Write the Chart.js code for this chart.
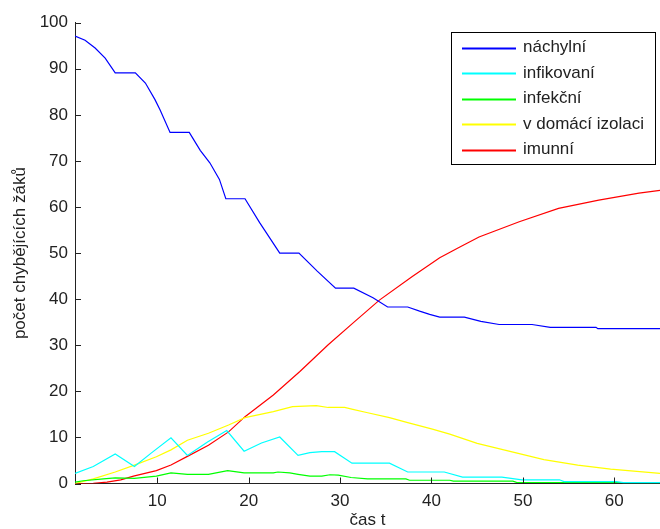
<!DOCTYPE html>
<html>
<head>
<meta charset="utf-8">
<script src="https://cdn.jsdelivr.net/npm/chart.js@4/dist/chart.umd.min.js"></script>
<style>
  body { margin: 0; background: #fff; }
</style>
</head>
<body>
<canvas id="myChart" width="660" height="529"></canvas>
<script>
// series, each with its own time points
const tNachylni = [1, 2.1, 3.2, 4.3, 5.4, 7.6, 8.7, 9.75, 10.3, 11.4, 13.5, 14.7, 15.75, 16.8, 17.5, 19.6, 21.2, 23.4, 25.5, 27.5, 29.5, 31.5, 33.6, 35.2, 37.4, 38.7, 39.8, 40.9, 43.6, 45.4, 47.4, 51, 53, 58, 58.2, 65];
const nachylni = [97.1, 96.2, 94.5, 92.3, 89.1, 89.1, 86.9, 83.3, 81.1, 76.2, 76.2, 72.3, 69.6, 66.0, 61.8, 61.8, 56.6, 50.0, 50.0, 46.1, 42.4, 42.4, 40.3, 38.3, 38.3, 37.4, 36.7, 36.1, 36.1, 35.2, 34.5, 34.5, 33.9, 33.9, 33.6, 33.6];

const tInfikovani = [1, 3, 5.4, 7.5, 9.4, 11.5, 13.3, 15.5, 17.6, 19.5, 21.4, 23.4, 25.4, 26.7, 28.0, 29.4, 31.3, 35.4, 37.4, 41.4, 43.4, 47.7, 49.9, 54, 54.5, 60.2, 61, 65];
const infikovani = [2.2, 3.7, 6.4, 3.7, 6.7, 9.9, 6.1, 9.0, 11.5, 7.0, 8.8, 10.1, 6.1, 6.7, 6.9, 6.9, 4.4, 4.4, 2.5, 2.5, 1.4, 1.4, 0.8, 0.8, 0.4, 0.4, 0.2, 0.2];

const tInfekcni = [1, 1.9, 4.1, 5.4, 7.5, 9.9, 11.5, 13.3, 15.6, 17.7, 19.5, 22.7, 23.2, 24.5, 25.4, 26.7, 28.0, 28.9, 29.8, 31.2, 33, 37.2, 37.6, 42, 42.4, 48.9, 49.3, 65];
const infekcni = [0.3, 0.6, 1.0, 1.2, 1.1, 1.6, 2.3, 2.0, 2.0, 2.8, 2.3, 2.3, 2.5, 2.3, 2.0, 1.6, 1.6, 1.9, 1.8, 1.3, 1.0, 1.0, 0.7, 0.7, 0.5, 0.5, 0.25, 0.2];

const tIzolace = [1, 3, 5.4, 7.5, 9.9, 11.5, 13.3, 15.6, 17.8, 19.6, 22.7, 24.8, 27.4, 28.7, 30.5, 31.4, 32.9, 35.4, 37.4, 40.1, 42, 45, 48.7, 52.3, 56, 59.6, 65];
const izolace = [0, 1.0, 2.5, 4.0, 5.8, 7.3, 9.4, 10.9, 12.7, 14.3, 15.6, 16.7, 16.9, 16.5, 16.5, 16.1, 15.4, 14.3, 13.2, 11.8, 10.7, 8.7, 6.9, 5.2, 4.0, 3.1, 2.2];

const tImunni = [1, 3, 4.5, 6, 7.4, 9.9, 11.5, 13.4, 15.6, 17.8, 19.6, 22.7, 25.6, 28.7, 31.4, 34.3, 37.9, 40.9, 43, 45.2, 49.6, 53.9, 58.3, 62.7, 65];
const imunni = [0, 0.05, 0.3, 0.8, 1.6, 2.8, 4.0, 6.0, 8.3, 11.2, 14.5, 19.2, 24.3, 30.1, 34.8, 39.8, 44.9, 49.0, 51.2, 53.5, 56.8, 59.7, 61.5, 63.0, 63.6];

const seriesNames = ['náchylní', 'infikovaní', 'infekční', 'v domácí izolaci', 'imunní'];
const xTicks = [10, 20, 30, 40, 50, 60];
const yTicks = [0, 10, 20, 30, 40, 50, 60, 70, 80, 90, 100];

const colors = ['#0000ff', '#00ffff', '#00ff00', '#ffff00', '#ff0000'];
const FONT = '"Liberation Sans", Arial, sans-serif';
const INK = '#222';

function pts(ts, vs) {
    return ts.map((t, i) => ({ x: t, y: vs[i] }));
}

const allSeries = [
    pts(tNachylni, nachylni),
    pts(tInfikovani, infikovani),
    pts(tInfekcni, infekcni),
    pts(tIzolace, izolace),
    pts(tImunni, imunni),
];

const data = {
    datasets: allSeries.map((d, i) => ({
        label: seriesNames[i],
        data: d,
        borderColor: colors[i],
        borderWidth: 1.2,
        pointRadius: 0,
        tension: 0,
        fill: false,
    }))
};

// MATLAB-like inward ticks and boxed legend
const matlabBits = {
    id: 'matlabBits',
    afterDraw(chart) {
        const ctx = chart.ctx;
        const xs = chart.scales.x, ys = chart.scales.y;
        const area = chart.chartArea;
        ctx.save();
        ctx.strokeStyle = INK;
        ctx.lineWidth = 1;
        ctx.beginPath();
        xTicks.forEach(v => {
            const px = Math.round(xs.getPixelForValue(v)) + 0.5;
            ctx.moveTo(px, area.bottom);
            ctx.lineTo(px, area.bottom - 6);
        });
        yTicks.forEach(v => {
            const py = Math.round(ys.getPixelForValue(v)) + 0.5;
            ctx.moveTo(area.left, py);
            ctx.lineTo(area.left + 6, py);
        });
        ctx.stroke();

        // legend
        const bx = 451.5, by = 32.5, bw = 204, bh = 132;
        ctx.fillStyle = '#fff';
        ctx.fillRect(bx, by, bw, bh);
        ctx.strokeStyle = '#000';
        ctx.strokeRect(bx, by, bw, bh);
        ctx.font = '17px ' + FONT;
        ctx.textBaseline = 'middle';
        ctx.textAlign = 'left';
        chart.data.datasets.forEach((ds, i) => {
            const ry = 47.5 + i * 25.5;
            ctx.fillStyle = ds.borderColor;
            ctx.fillRect(462, Math.round(ry) - 0.5, 54, 2);
            ctx.fillStyle = INK;
            ctx.fillText(ds.label, 523, ry);
        });
        ctx.restore();
    }
};

const config = {
    type: 'line',
    data: data,
    options: {
        responsive: false,
        animation: false,
        devicePixelRatio: 1,
        layout: { padding: { top: 22.7, right: -1.5, left: 0, bottom: 0 } },
        plugins: {
            legend: { display: false },
            tooltip: { enabled: false },
        },
        scales: {
            x: {
                type: 'linear',
                min: 1,
                max: 65,
                afterBuildTicks: s => { s.ticks = xTicks.map(v => ({ value: v })); },
                afterFit: s => { s.height = 45.5; },
                grid: { display: false, drawTicks: false },
                border: { display: true, color: INK, width: 1 },
                ticks: { color: INK, font: { family: FONT, size: 17 }, padding: 8, maxRotation: 0 },
                title: { display: true, text: 'čas t', color: INK, font: { family: FONT, size: 17, lineHeight: 1 }, padding: { top: 0, bottom: 0 } },
            },
            y: {
                min: 0,
                max: 100,
                afterBuildTicks: s => { s.ticks = yTicks.map(v => ({ value: v })); },
                afterFit: s => { s.width = 75; },
                grid: { display: false, drawTicks: false },
                border: { display: true, color: INK, width: 1 },
                ticks: { color: INK, font: { family: FONT, size: 17 }, padding: 7 },
                title: { display: true, text: 'počet chybějících žáků', color: INK, font: { family: FONT, size: 17, lineHeight: 1 }, padding: { top: 12, bottom: 0 } },
            }
        }
    },
    plugins: [matlabBits]
};

const myChart = new Chart(document.getElementById('myChart'), config);
</script>
</body>
</html>
